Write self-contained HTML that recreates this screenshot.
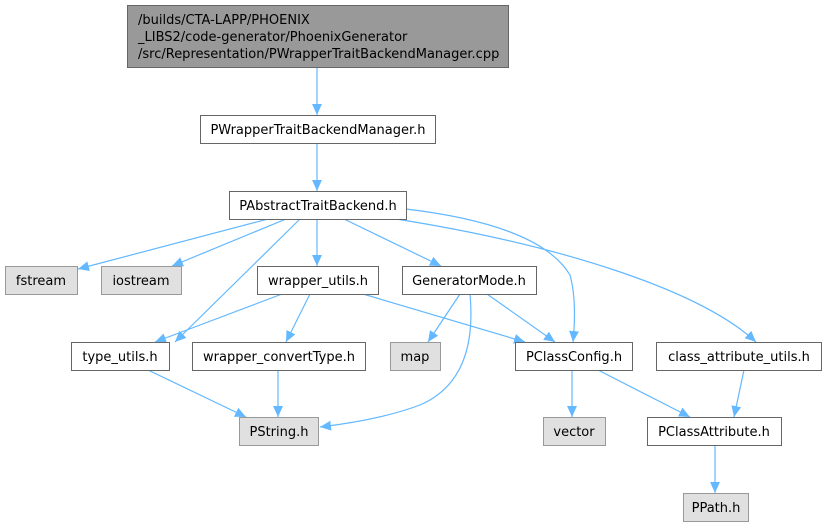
<!DOCTYPE html>
<html><head><meta charset="utf-8"><style>
html,body{margin:0;padding:0;background:#fff;}
svg text{font-family:"DejaVu Sans","Liberation Sans",sans-serif;font-size:13px;fill:#000;}
</style></head><body>
<svg width="826" height="526" viewBox="0 0 826 526" xmlns="http://www.w3.org/2000/svg">
<defs><marker id="a" viewBox="0 0 10 10" refX="10" refY="5" markerWidth="11" markerHeight="11" markerUnits="userSpaceOnUse" orient="auto"><path d="M0,0.5 L10,5 L0,9.5 z" fill="#63b8ff"/></marker></defs>
<g fill="none" stroke="#63b8ff" stroke-width="1.2" marker-end="url(#a)">
<path d="M317,67 L317,115"/>
<path d="M317,143 L317,191"/>
<path d="M268,219 L78,269"/>
<path d="M286,219 L172,266"/>
<path d="M300,219 L175,342"/>
<path d="M317,219 L317,266"/>
<path d="M344,219 L441,266"/>
<path d="M396,219 C560,245 700,290 756,342"/>
<path d="M406,209 Q540,225 570,275 Q577,300 573,342"/>
<path d="M282,294 L155,342"/>
<path d="M310,294 L286,342"/>
<path d="M363,294 L525,342"/>
<path d="M460,294 L428,342"/>
<path d="M487,294 L555,342"/>
<path d="M470,294 Q478,380 420,405 Q380,420 320,427"/>
<path d="M148,370 L246,417"/>
<path d="M278,370 L278,417"/>
<path d="M572,370 L572,417"/>
<path d="M598,370 L690,417"/>
<path d="M744,370 L734,417"/>
<path d="M715,445 L715,493"/>
</g>
<g stroke-width="1">
<rect x="127.5" y="5.5" width="381" height="62" fill="#999" stroke="#666"/>
<rect x="200.5" y="115.5" width="235" height="28" fill="#fff" stroke="#666"/>
<rect x="229.5" y="191.5" width="177" height="28" fill="#fff" stroke="#666"/>
<rect x="5.5" y="266.5" width="72" height="28" fill="#e0e0e0" stroke="#999"/>
<rect x="101.5" y="266.5" width="80" height="28" fill="#e0e0e0" stroke="#999"/>
<rect x="257.5" y="266.5" width="121" height="28" fill="#fff" stroke="#666"/>
<rect x="402.5" y="266.5" width="134" height="28" fill="#fff" stroke="#666"/>
<rect x="71.5" y="342.5" width="98" height="28" fill="#fff" stroke="#666"/>
<rect x="192.5" y="342.5" width="173" height="28" fill="#fff" stroke="#666"/>
<rect x="390.5" y="342.5" width="50" height="28" fill="#e0e0e0" stroke="#999"/>
<rect x="515.5" y="342.5" width="117" height="28" fill="#fff" stroke="#666"/>
<rect x="656.5" y="342.5" width="165" height="28" fill="#fff" stroke="#666"/>
<rect x="239.5" y="417.5" width="79" height="28" fill="#e0e0e0" stroke="#999"/>
<rect x="543.5" y="417.5" width="62" height="28" fill="#e0e0e0" stroke="#999"/>
<rect x="647.5" y="417.5" width="134" height="28" fill="#fff" stroke="#666"/>
<rect x="683.5" y="493.5" width="65" height="28" fill="#e0e0e0" stroke="#999"/>
</g>
<text x="138" y="24">/builds/CTA-LAPP/PHOENIX</text>
<text x="138" y="41">_LIBS2/code-generator/PhoenixGenerator</text>
<text x="138" y="58">/src/Representation/PWrapperTraitBackendManager.cpp</text>
<g text-anchor="middle">
<text x="318" y="134">PWrapperTraitBackendManager.h</text>
<text x="318" y="210">PAbstractTraitBackend.h</text>
<text x="41" y="285">fstream</text>
<text x="141" y="285">iostream</text>
<text x="318" y="285">wrapper_utils.h</text>
<text x="469" y="285">GeneratorMode.h</text>
<text x="120" y="361">type_utils.h</text>
<text x="279" y="361">wrapper_convertType.h</text>
<text x="415" y="361">map</text>
<text x="574" y="361">PClassConfig.h</text>
<text x="739" y="361">class_attribute_utils.h</text>
<text x="279" y="436">PString.h</text>
<text x="574" y="436">vector</text>
<text x="714" y="436">PClassAttribute.h</text>
<text x="716" y="512">PPath.h</text>
</g>
</svg>
</body></html>
